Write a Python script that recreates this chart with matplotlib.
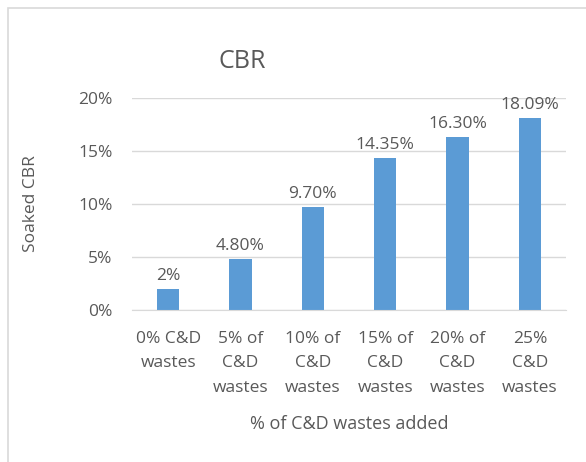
import matplotlib
matplotlib.use('Agg')
import matplotlib.pyplot as plt
from matplotlib.patches import Rectangle
from matplotlib.ticker import PercentFormatter

categories = ['0% C&D\nwastes', '5% of\nC&D\nwastes', '10% of\nC&D\nwastes',
              '15% of\nC&D\nwastes', '20% of\nC&D\nwastes', '25%\nC&D\nwastes']
cbr = [2.0, 4.80, 9.70, 14.35, 16.30, 18.09]
value_labels = ['2%', '4.80%', '9.70%', '14.35%', '16.30%', '18.09%']
yticks = [0, 5, 10, 15, 20]

txt = '#595959'
plt.rcParams['font.family'] = ['Open Sans', 'DejaVu Sans']

W, H = 586, 462
fig = plt.figure(figsize=(W / 100, H / 100), dpi=100)
fig.patches.append(Rectangle((8 / W, -0.1), 1.2, (H - 8) / H + 0.1,
                             transform=fig.transFigure, fill=False,
                             edgecolor='#D9D9D9', linewidth=1.2))

ax = fig.add_axes([132 / W, 1 - 310 / H, (566 - 132) / W, (310 - 98) / H])
x = range(len(cbr))
ax.bar(x, cbr, width=0.31, color='#5B9BD5', zorder=2)
for xi, v, lab in zip(x, cbr, value_labels):
    ax.text(xi, v + 0.45, lab, ha='center', va='bottom', fontsize=12.5, color=txt)

ax.set_ylim(0, 20)
ax.set_xlim(-0.5, len(cbr) - 0.5)
ax.set_yticks(yticks)
ax.yaxis.set_major_formatter(PercentFormatter(decimals=0))
ax.set_xticks(list(x))
ax.set_xticklabels(categories, fontsize=12.5, color=txt, linespacing=1.7)
ax.tick_params(axis='y', labelsize=12.5, labelcolor=txt, length=0, pad=14)
ax.tick_params(axis='x', length=0, pad=15)
ax.grid(axis='y', color='#D9D9D9', linewidth=1, zorder=0)
for s in ['top', 'right', 'left']:
    ax.spines[s].set_visible(False)
ax.spines['bottom'].set_color('#D9D9D9')

ax.set_ylabel('Soaked CBR', fontsize=12.5, color=txt, labelpad=28)
ax.set_xlabel('% of C&D wastes added', fontsize=13, color=txt, labelpad=14)
fig.text(242 / W, 1 - 62 / H, 'CBR', ha='center', va='center', fontsize=18, color=txt)

fig.savefig('out.png', dpi=100)
